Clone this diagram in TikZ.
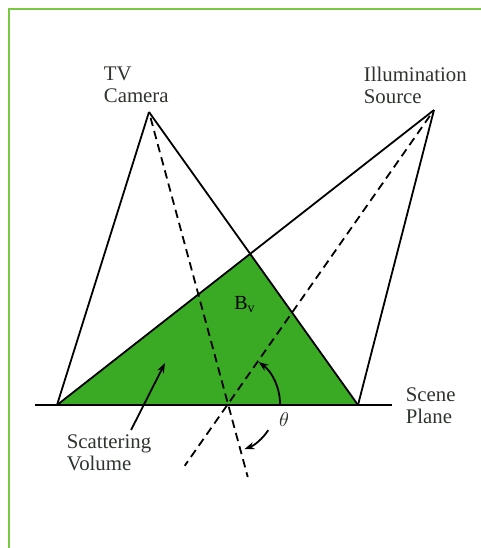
\documentclass[tikz,border=0pt]{standalone}
\usepackage{fontspec}
\setmainfont{Liberation Serif}
\usetikzlibrary{arrows.meta,calc}

\definecolor{scatgreen}{RGB}{58,170,36}
\definecolor{framegreen}{RGB}{120,200,70}
\definecolor{inkgray}{RGB}{45,52,45}

\begin{document}
\begin{tikzpicture}[x=0.5pt,y=-0.5pt,
        line width=0.9pt,
        axis/.style={dash pattern=on 4.2pt off 2.6pt},
        tip/.style={-{Stealth[length=5pt,width=3.6pt]}},
        lbl/.style={align=left, inner sep=0pt, anchor=north west, text=inkgray,
            font=\fontsize{10.4}{11}\selectfont}]
        \useasboundingbox (0,0) rectangle (481,548);

        % ramecek
        \draw[framegreen, line width=1pt] (9,548) -- (9,9) -- (481,9);

        % kamera, zdroj a body v rovine sceny
        \coordinate (C) at (149,112);
        \coordinate (S) at (434,110);
        \coordinate (A) at (57,405);
        \coordinate (B) at (358,405);
        \coordinate (O) at (228,404);
        \coordinate (T) at (intersection of C--B and S--A);

        % rozptylovy objem
        \fill[scatgreen] (A) -- (T) -- (B) -- cycle;

        \draw (C) -- (A);
        \draw (C) -- (B);
        \draw (S) -- (A);
        \draw (S) -- (B);

        % rovina sceny
        \draw[line width=1.3pt] (35,405) coordinate (L) -- (392,405) coordinate (R);

        % osy
        \draw[axis] ($(C)!0.02!(O)$) -- ($(C)!1.25!(O)$);
        \draw[axis] ($(S)!0.02!(O)$) -- ($(S)!1.21!(O)$);

        % uhel
        \draw[tip] ($(O)+(0:26pt)$) arc[start angle=0, end angle=54, radius=26pt];
        \draw[tip] ($(O)+(-33:24pt)$) arc[start angle=-33, end angle=-70, radius=24pt];
        \node[text=inkgray] (th) at (284,420) {$\theta$};

        % popisky
        \node[lbl] (cam) at (103,66) {TV\\Camera};
        \node[lbl] (src) at (363,66) {Illumination\\Source};
        \node[lbl] (scene) at (405,387) {Scene\\Plane};
        \node[lbl] (scat) at (66,434) {Scattering\\Volume};
        \node (bv) at (245,305) {B\textsubscript{v}};

        \coordinate (svtip) at (165,363);
        \draw[tip] ([xshift=11pt,yshift=2pt]scat.north) -- (svtip);
    \end{tikzpicture}
\end{document}
